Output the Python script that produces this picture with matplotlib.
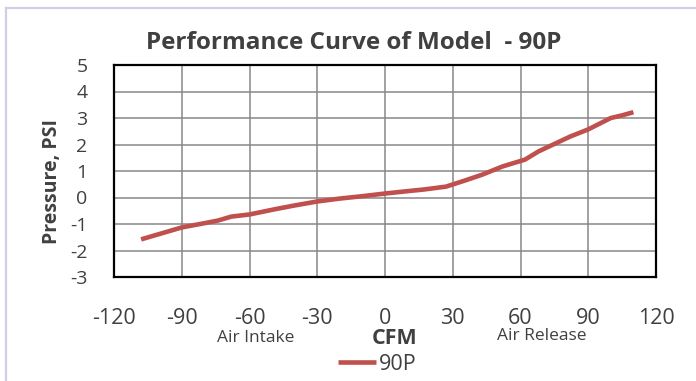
import matplotlib
matplotlib.use('Agg')
import matplotlib.pyplot as plt
from matplotlib.lines import Line2D

plt.rcParams['font.family'] = ['Open Sans', 'DejaVu Sans']
plt.rcParams['axes.unicode_minus'] = False

# air flow (CFM) vs. pressure (PSI) for model 90P
cfm = [-108, -100, -90, -80, -74, -68, -60, -48, -40, -30, -20, -10, 0, 10,
       17, 27, 35, 43, 52, 62, 68, 75, 82, 90, 100, 105, 110]
psi = [-1.58, -1.38, -1.13, -0.97, -0.87, -0.72, -0.64, -0.43, -0.30, -0.15,
       -0.04, 0.05, 0.15, 0.24, 0.30, 0.41, 0.63, 0.86, 1.17, 1.43, 1.74,
       2.02, 2.30, 2.57, 3.00, 3.10, 3.22]

x_ticks = [-120, -90, -60, -30, 0, 30, 60, 90, 120]
y_ticks = [-3, -2, -1, 0, 1, 2, 3, 4, 5]

W, H = 696, 381
text_color = '#404040'

fig = plt.figure(figsize=(W / 100, H / 100), dpi=100)
ax = fig.add_axes([114 / W, 1 - 277 / H, (656 - 114) / W, (277 - 65) / H])

ax.plot(cfm, psi, color='#c0504d', linewidth=3.3, solid_capstyle='butt', label='90P', zorder=3)

ax.set_xlim(-120, 120)
ax.set_ylim(-3, 5)
ax.set_xticks(x_ticks)
ax.set_yticks(y_ticks)
ax.grid(True, color='#878787', linewidth=1.1)
ax.set_axisbelow(True)
for s in ax.spines.values():
    s.set_color('black')
    s.set_linewidth(1.6)

ax.tick_params(axis='x', length=0, pad=22, labelsize=15.5, labelcolor=text_color)
ax.tick_params(axis='y', length=0, pad=19, labelsize=14, labelcolor=text_color)

fig.text(354 / W, 1 - 43 / H, 'Performance Curve of Model  - 90P', ha='center', va='center',
         fontsize=17.5, fontweight='bold', color=text_color)
fig.text(52 / W, 1 - 182 / H, 'Pressure, PSI', ha='center', va='center', rotation=90,
         fontsize=14, fontweight='bold', color=text_color)
fig.text(395 / W, 1 - 338 / H, 'CFM', ha='center', va='center',
         fontsize=15.5, fontweight='bold', color=text_color)
fig.text(256 / W, 1 - 338 / H, 'Air Intake', ha='center', va='center',
         fontsize=12.5, color=text_color)
fig.text(542 / W, 1 - 336 / H, 'Air Release', ha='center', va='center',
         fontsize=12.5, color=text_color)

leg = ax.legend(loc='center', bbox_to_anchor=(377 / W, 1 - 364 / H), bbox_transform=fig.transFigure,
                frameon=False, fontsize=15.5, handlelength=1.8, handletextpad=0.1,
                borderpad=0, borderaxespad=0)
for t in leg.get_texts():
    t.set_color(text_color)

# light chart-area border along top and left
fig.add_artist(Line2D([6 / W, 1], [1 - 8 / H, 1 - 8 / H], color='#d4cbe5', linewidth=1.6))
fig.add_artist(Line2D([6 / W, 6 / W], [0, 1 - 8 / H], color='#d4cbe5', linewidth=1.6))

fig.savefig('out.png', dpi=100)
